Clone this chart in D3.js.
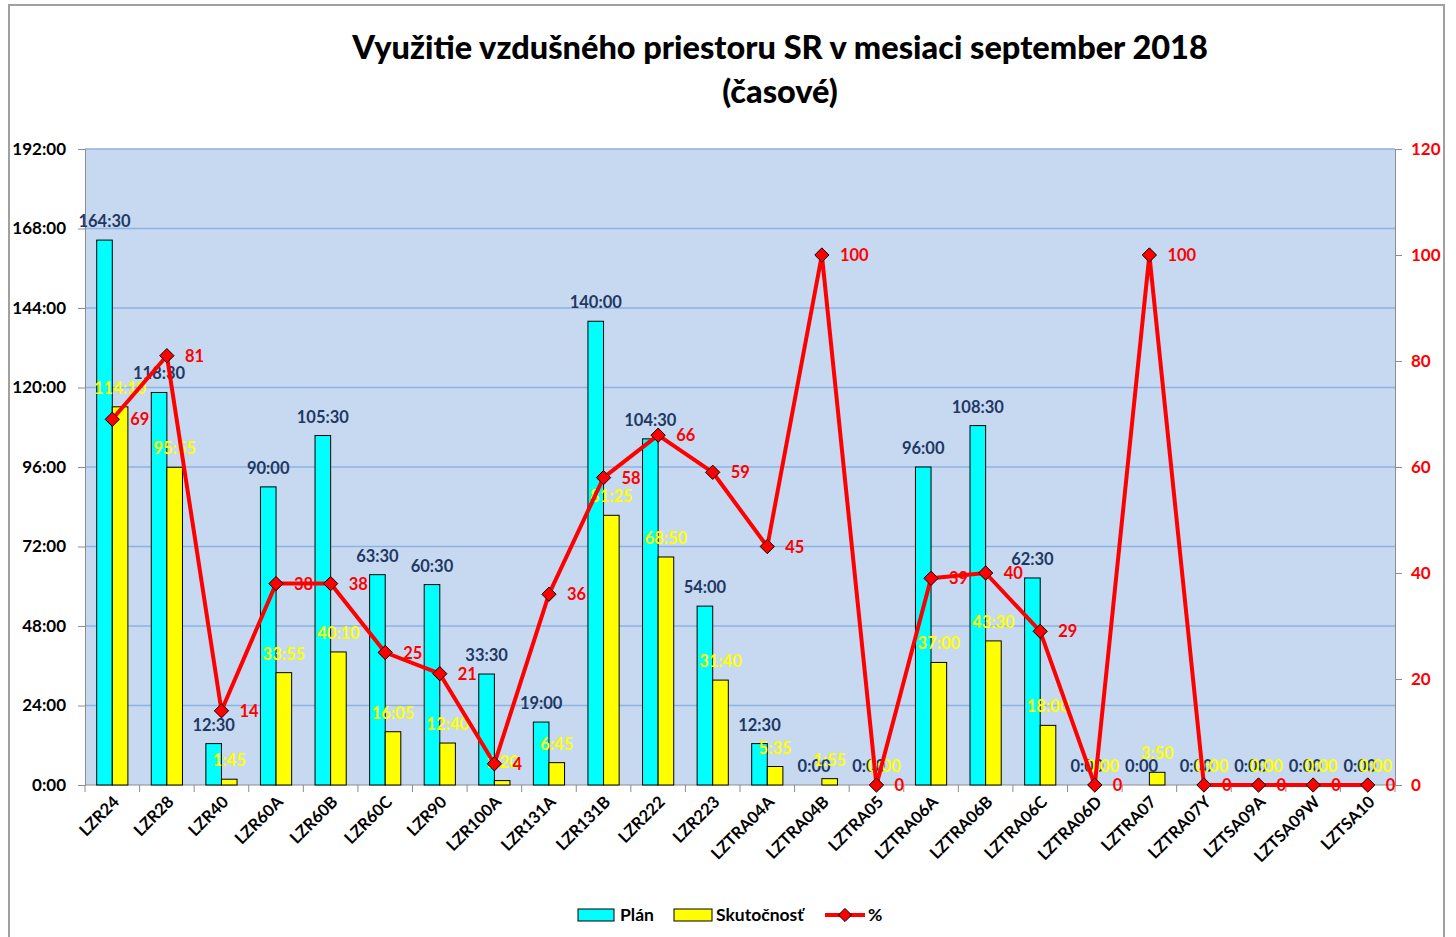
<!DOCTYPE html>
<html>
<head>
<meta charset="utf-8">
<title>Využitie vzdušného priestoru SR</title>
<script src="https://d3js.org/d3.v7.min.js"></script>
<style>
  body { margin: 0; background: #fff; }
  text { font-family: Lato, "Open Sans", sans-serif; font-weight: bold; }
</style>
</head>
<body>
<div id="chart"></div>
<script>
// categories (airspace blocks)
var zones = ["LZR24", "LZR28", "LZR40", "LZR60A", "LZR60B", "LZR60C", "LZR90", "LZR100A",
  "LZR131A", "LZR131B", "LZR222", "LZR223", "LZTRA04A", "LZTRA04B", "LZTRA05", "LZTRA06A",
  "LZTRA06B", "LZTRA06C", "LZTRA06D", "LZTRA07", "LZTRA07Y", "LZTSA09A", "LZTSA09W", "LZTSA10"];

// planned time (h:mm)
var plan = ["164:30", "118:30", "12:30", "90:00", "105:30", "63:30", "60:30", "33:30",
  "19:00", "140:00", "104:30", "54:00", "12:30", "0:00", "0:00", "96:00",
  "108:30", "62:30", "0:00", "0:00", "0:00", "0:00", "0:00", "0:00"];

// actual time (h:mm)
var actual = ["114:10", "95:55", "1:45", "33:55", "40:10", "16:05", "12:40", "1:20",
  "6:45", "81:25", "68:50", "31:40", "5:35", "1:55", "0:00", "37:00",
  "43:30", "18:00", "0:00", "3:50", "0:00", "0:00", "0:00", "0:00"];

// utilisation %
var pct = [69, 81, 14, 38, 38, 25, 21, 4, 36, 58, 66, 59, 45, 100, 0, 39, 40, 29, 0, 100, 0, 0, 0, 0];

var leftTicks = [0, 24, 48, 72, 96, 120, 144, 168, 192];
var rightTicks = [0, 20, 40, 60, 80, 100, 120];

function toHours(s) {
  var p = s.split(":");
  return +p[0] + (+p[1]) / 60;
}

var W = 1456, H = 937;
var margin = {top: 149, right: 61, bottom: 152, left: 85};
var width = W - margin.left - margin.right,
    height = H - margin.top - margin.bottom;

var svg = d3.select("#chart").append("svg")
  .attr("width", W)
  .attr("height", H);

// outer frame
svg.append("path")
  .attr("d", "M9," + H + " V5 H1444 V" + H)
  .style("fill", "none")
  .style("stroke", "#a0a0a0")
  .style("stroke-width", 2);

// title
svg.append("text")
  .attr("x", 780).attr("y", 59)
  .attr("text-anchor", "middle")
  .style("font-size", "32.5px")
  .style("font-weight", 900)
  .text("Využitie vzdušného priestoru SR v mesiaci september 2018");
svg.append("text")
  .attr("x", 780).attr("y", 103)
  .attr("text-anchor", "middle")
  .style("font-size", "32.5px")
  .style("font-weight", 900)
  .text("(časové)");

var g = svg.append("g")
  .attr("transform", "translate(" + margin.left + "," + margin.top + ")");

var x = d3.scaleBand().domain(zones).range([0, width]).paddingInner(0).paddingOuter(0);
var xs = d3.scaleBand().domain(["plan", "actual"]).range([0, x.bandwidth()])
  .paddingInner(0).paddingOuter(0.75);
var y = d3.scaleLinear().domain([0, 192]).range([height, 0]);
var y2 = d3.scaleLinear().domain([0, 120]).range([height, 0]);

// plot area
g.append("rect")
  .attr("width", width).attr("height", height)
  .style("fill", "#c6d9f0");

// gridlines
g.append("g").selectAll("line")
  .data(leftTicks.slice(1))
  .enter().append("line")
  .attr("x1", 0).attr("x2", width)
  .attr("y1", function(d) { return y(d); })
  .attr("y2", function(d) { return y(d); })
  .style("stroke", "#8db3e2")
  .style("stroke-width", 1.5);

// left axis
var yAxis = g.append("g")
  .call(d3.axisLeft(y).tickValues(leftTicks).tickSize(7).tickPadding(12)
    .tickFormat(function(d) { return d + ":00"; }));
yAxis.selectAll("text").style("font-size", "17px").style("fill", "#000");
yAxis.select(".domain").style("stroke", "#8c8c8c");
yAxis.selectAll(".tick line").style("stroke", "#8c8c8c");

// right axis
var y2Axis = g.append("g")
  .attr("transform", "translate(" + width + ",0)")
  .call(d3.axisRight(y2).tickValues(rightTicks).tickSize(7).tickPadding(9));
y2Axis.selectAll("text").style("font-size", "17px").style("fill", "#ff0000");
y2Axis.select(".domain").style("stroke", "#8c8c8c");
y2Axis.selectAll(".tick line").style("stroke", "#8c8c8c");

// bottom axis: ticks on category boundaries
var xAxis = g.append("g").attr("transform", "translate(0," + height + ")");
xAxis.append("line")
  .attr("x1", 0).attr("x2", width)
  .style("stroke", "#8c8c8c");
xAxis.selectAll(".xt")
  .data(zones.concat(["end"]))
  .enter().append("line")
  .attr("class", "xt")
  .attr("x1", function(d, i) { return i * x.bandwidth(); })
  .attr("x2", function(d, i) { return i * x.bandwidth(); })
  .attr("y1", 0).attr("y2", 7)
  .style("stroke", "#8c8c8c");
xAxis.selectAll(".xl")
  .data(zones)
  .enter().append("text")
  .attr("class", "xl")
  .attr("text-anchor", "end")
  .attr("transform", function(d) {
    return "translate(" + (x(d) + x.bandwidth() / 2 + 8) + ",18) rotate(-45)";
  })
  .style("font-size", "16.5px")
  .text(function(d) { return d; });

// bars
var groups = g.selectAll(".grp")
  .data(zones)
  .enter().append("g")
  .attr("class", "grp")
  .attr("transform", function(d) { return "translate(" + x(d) + ",0)"; });

groups.append("rect")
  .attr("x", xs("plan"))
  .attr("width", xs.bandwidth())
  .attr("y", function(d, i) { return y(toHours(plan[i])); })
  .attr("height", function(d, i) { return height - y(toHours(plan[i])); })
  .style("fill", "#00ffff")
  .style("stroke", "#000")
  .style("stroke-width", 1);

groups.append("rect")
  .attr("x", xs("actual"))
  .attr("width", xs.bandwidth())
  .attr("y", function(d, i) { return y(toHours(actual[i])); })
  .attr("height", function(d, i) { return height - y(toHours(actual[i])); })
  .style("fill", "#ffff00")
  .style("stroke", "#000")
  .style("stroke-width", 1);

// % line
var cx = function(d, i) { return x(zones[i]) + x.bandwidth() / 2; };
var line = d3.line()
  .x(function(d, i) { return x(zones[i]) + x.bandwidth() / 2; })
  .y(function(d) { return y2(d); });

g.append("path")
  .datum(pct)
  .attr("d", line)
  .style("fill", "none")
  .style("stroke", "#ff0000")
  .style("stroke-width", 4)
  .style("stroke-linejoin", "round");

g.selectAll(".mk")
  .data(pct)
  .enter().append("path")
  .attr("class", "mk")
  .attr("d", d3.symbol().type(d3.symbolDiamond2).size(130))
  .attr("transform", function(d, i) { return "translate(" + cx(d, i) + "," + y2(d) + ")"; })
  .style("fill", "#ff0000")
  .style("stroke", "#000")
  .style("stroke-width", 1);

// plan labels
groups.append("text")
  .attr("x", xs("plan") + xs.bandwidth() / 2)
  .attr("y", function(d, i) { return y(toHours(plan[i])) - 13; })
  .attr("text-anchor", "middle")
  .style("font-size", "16.5px")
  .style("fill", "#1f3864")
  .text(function(d, i) { return plan[i]; });

// actual labels
groups.append("text")
  .attr("x", xs("actual") + xs.bandwidth() / 2)
  .attr("y", function(d, i) { return y(toHours(actual[i])) - 13; })
  .attr("text-anchor", "middle")
  .style("font-size", "16.5px")
  .style("fill", "#ffff00")
  .text(function(d, i) { return actual[i]; });

// % labels
g.selectAll(".pl")
  .data(pct)
  .enter().append("text")
  .attr("class", "pl")
  .attr("x", function(d, i) { return cx(d, i) + 18; })
  .attr("y", function(d) { return y2(d) + 6; })
  .style("font-size", "16.5px")
  .style("fill", "#ff0000")
  .text(function(d) { return d; });

// legend
var legend = svg.append("g").attr("transform", "translate(578,915)");
legend.append("rect").attr("x", 0).attr("y", -6).attr("width", 36).attr("height", 12)
  .style("fill", "#00ffff").style("stroke", "#000");
legend.append("text").attr("x", 42).attr("y", 6).style("font-size", "17.5px").text("Plán");
legend.append("rect").attr("x", 96).attr("y", -6).attr("width", 38).attr("height", 12)
  .style("fill", "#ffff00").style("stroke", "#000");
legend.append("text").attr("x", 138).attr("y", 6).style("font-size", "17.5px").text("Skutočnosť");
legend.append("line").attr("x1", 247).attr("x2", 287).attr("y1", 0).attr("y2", 0)
  .style("stroke", "#ff0000").style("stroke-width", 4);
legend.append("path")
  .attr("d", d3.symbol().type(d3.symbolDiamond2).size(110))
  .attr("transform", "translate(267,0)")
  .style("fill", "#ff0000").style("stroke", "#000");
legend.append("text").attr("x", 290).attr("y", 6).style("font-size", "17.5px").text("%");
</script>
</body>
</html>
